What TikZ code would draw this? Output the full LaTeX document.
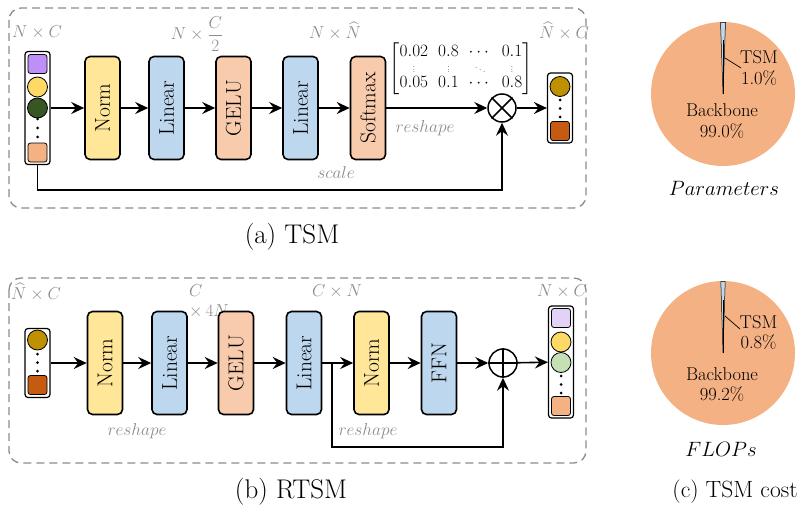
\documentclass[tikz,border=0pt]{standalone}
\usepackage{amsmath}
\usepackage{graphicx}
\usetikzlibrary{arrows.meta}
\definecolor{cyel}{HTML}{FFE699}
\definecolor{cblu}{HTML}{BDD7EE}
\definecolor{cpch}{HTML}{F8CBAD}
\definecolor{cgry}{HTML}{8C8C8C}
\definecolor{cpur}{HTML}{BF8FF8}
\definecolor{cgold}{HTML}{FFD966}
\definecolor{cdgrn}{HTML}{375623}
\definecolor{corg}{HTML}{F4B183}
\definecolor{cdyel}{HTML}{BF9000}
\definecolor{cdorg}{HTML}{C55A11}
\definecolor{clav}{HTML}{E2D2F8}
\definecolor{clgrn}{HTML}{C5E0B4}
\definecolor{cpie}{HTML}{F4B183}
\newcommand{\fsz}[2]{\fontsize{#1}{#2}\selectfont}
\newcommand{\svd}{\smash{\raisebox{-1pt}{\scalebox{0.65}{$\vdots$}}}}
\newcommand{\sdd}{\smash{\raisebox{-1pt}{\scalebox{0.65}{$\ddots$}}}}
\begin{document}
\begin{tikzpicture}[x=1pt,y=-1pt,
  blk/.style={draw, line width=1.6pt, rounded corners=5pt, minimum width=35pt, minimum height=103pt, inner sep=0pt, font=\fsz{21.5}{24}},
  colbox/.style={draw, line width=1.2pt, rounded corners=3pt, fill=white, inner sep=0pt, minimum width=25pt},
  sq/.style={draw, line width=0.8pt, rounded corners=2.5pt, minimum size=19pt, inner sep=0pt},
  ci/.style={draw, circle, line width=0.8pt, minimum size=20pt, inner sep=0pt},
  smalldot/.style={circle, fill=black, minimum size=3pt, inner sep=0pt},
  lbl/.style={text=cgry, font=\fsz{16.5}{18}, inner sep=0pt},
  flow/.style={line width=1.6pt, -{Stealth[length=13pt,width=12pt,inset=4.5pt]}},
  dbox/.style={draw=cgry, line width=1.3pt, dash pattern=on 8pt off 5pt, rounded corners=12pt},
  op/.style={draw, circle, line width=1.5pt, minimum size=28pt, inner sep=0pt},
  pietxt/.style={font=\fsz{18.5}{20.5}, align=center, inner sep=0pt},
  captxt/.style={font=\fsz{27}{29}, inner sep=0pt}
]
\useasboundingbox (0,0) rectangle (800,508);

% ===================== (a) TSM =====================
\draw[dbox] (9,8) rectangle (586,208);
\node[lbl] (la1) at (37,32) {$N\times C$};
\node[lbl] (la2) at (197,34) {$N\times\dfrac{C}{2}$};
\node[lbl] (la3) at (335,31) {$N\times \widehat{N}$};
\node[lbl] (la4) at (564,31) {$\widehat{N}\times C$};

\node[colbox, minimum height=113pt] (in1) at (37.5,108) {};
\node[sq, fill=cpur] (a1) at (37.5,64) {};
\node[ci, fill=cgold] (a2) at (37.5,87) {};
\node[ci, fill=cdgrn] (a3) at (37.5,108) {};
\node[smalldot] (a4) at (37.5,119) {};
\node[smalldot] (a5) at (37.5,128) {};
\node[smalldot] (a6) at (37.5,137) {};
\node[sq, fill=corg] (a7) at (37.5,152.5) {};

\node[blk, fill=cyel] (n1) at (102.5,108) {\rotatebox{90}{Norm}};
\node[blk, fill=cblu] (l1) at (166.5,108) {\rotatebox{90}{Linear}};
\node[blk, fill=cpch] (g1) at (233.5,108) {\rotatebox{90}{GELU}};
\node[blk, fill=cblu] (l2) at (300.5,108) {\rotatebox{90}{Linear}};
\node[blk, fill=cpch] (s1) at (368,108) {\rotatebox{90}{Softmax}};
\node[op] (mul) at (502,108) {};
\draw[line width=1.5pt] (mul.north west) -- (mul.south east) (mul.north east) -- (mul.south west);

\node[colbox, minimum height=70pt] (out1) at (560,108) {};
\node[ci, fill=cdyel] (b1) at (560,86.5) {};
\node[smalldot] (b2) at (560,100) {};
\node[smalldot] (b3) at (560,108.5) {};
\node[smalldot] (b4) at (560,117) {};
\node[sq, fill=cdorg] (b5) at (560,131) {};

\node[font=\fsz{17}{15}, inner sep=0pt] (mat) at (461,69)
  {$\setlength{\arraycolsep}{5pt}\begin{bmatrix}0.02 & 0.8 & \cdots & 0.1\\ \svd & \svd & \sdd & \svd\\ 0.05 & 0.1 & \cdots & 0.8\end{bmatrix}$};
\node[lbl, font=\fsz{17}{18}] (rs1) at (425,128) {$reshape$};
\node[lbl, font=\fsz{17}{18}] (sc1) at (336,172) {$scale$};

\draw[flow] (in1) -- (n1);
\draw[flow] (n1) -- (l1);
\draw[flow] (l1) -- (g1);
\draw[flow] (g1) -- (l2);
\draw[flow] (l2) -- (s1);
\draw[flow] (s1) -- (mul);
\draw[flow] (mul) -- (out1);
\draw[flow] (in1.south) -- ++(0,25) -| (mul.south);

\node[captxt] (capa) at (292,237) {(a) TSM};

% ===================== (b) RTSM =====================
\draw[dbox] (9,278) rectangle (586,463);
\node[lbl] (lb1) at (36,292) {$\widehat{N}\times C$};
\node[lbl, anchor=west] (lb2) at (189,291) {$C$};
\node[lbl, anchor=west] (lb3) at (189,311) {$\times\, 4N$};
\node[lbl] (lb4) at (337,291) {$C\times N$};
\node[lbl] (lb5) at (562,291) {$N\times C$};

\node[colbox, minimum height=69pt] (in2) at (37.5,363) {};
\node[ci, fill=cdyel] (c1) at (37.5,340) {};
\node[smalldot] (c2) at (37.5,354) {};
\node[smalldot] (c3) at (37.5,362.5) {};
\node[smalldot] (c4) at (37.5,371) {};
\node[sq, fill=cdorg] (c5) at (37.5,385) {};

\node[blk, fill=cyel] (n2) at (105,363) {\rotatebox{90}{Norm}};
\node[blk, fill=cblu] (l3) at (169.5,363) {\rotatebox{90}{Linear}};
\node[blk, fill=cpch] (g2) at (236,363) {\rotatebox{90}{GELU}};
\node[blk, fill=cblu] (l4) at (304,363) {\rotatebox{90}{Linear}};
\node[blk, fill=cyel] (n3) at (371.5,363) {\rotatebox{90}{Norm}};
\node[blk, fill=cblu] (f1) at (439,363) {\rotatebox{90}{FFN}};
\node[op] (add) at (503,363) {};
\draw[line width=1.5pt] (add.north) -- (add.south) (add.east) -- (add.west);

\node[colbox, minimum height=112pt] (out2) at (561,362) {};
\node[sq, fill=clav] (d1) at (561,318) {};
\node[ci, fill=cgold] (d2) at (561,342) {};
\node[ci, fill=clgrn] (d3) at (561,362.5) {};
\node[smalldot] (d4) at (561,376) {};
\node[smalldot] (d5) at (561,384.5) {};
\node[smalldot] (d6) at (561,393) {};
\node[sq, fill=corg] (d7) at (561,406) {};

\node[lbl, font=\fsz{17}{18}] (rs2) at (137,431) {$reshape$};
\node[lbl, font=\fsz{17}{18}] (rs3) at (368,431) {$reshape$};

\coordinate (sk) at (332,363);
\draw[flow] (in2) -- (n2);
\draw[flow] (n2) -- (l3);
\draw[flow] (l3) -- (g2);
\draw[flow] (g2) -- (l4);
\draw[flow] (l4) -- (n3);
\draw[flow] (n3) -- (f1);
\draw[flow] (f1) -- (add);
\draw[flow] (add) -- (out2);
\draw[flow] (sk) -- ++(0,84) -| (add.south);

\node[captxt] (capb) at (291,492) {(b) RTSM};

% ===================== (c) TSM cost =====================
\fill[cpie] (723,94) circle (72);
\coordinate (p1c) at (723,94);
\draw[fill=cblu, line width=0.5pt] (p1c) -- (720.5,22.3) -- (725.5,22.3) -- cycle;
\draw[line width=0.9pt] (p1c) -- (723,40);
\draw[line width=0.7pt] (725,58) -- (741,68);
\node[pietxt] (t1) at (759,68) {TSM\\1.0\%};
\node[pietxt] (bb1) at (722,121) {Backbone\\99.0\%};
\node[font=\fsz{21}{22}, inner sep=0pt] (par) at (724,188) {$Parameters$};

\fill[cpie] (723,353) circle (72);
\coordinate (p2c) at (723,353);
\draw[fill=cblu, line width=0.5pt] (p2c) -- (720.8,281.3) -- (725.2,281.3) -- cycle;
\draw[line width=0.9pt] (p2c) -- (723,300);
\draw[line width=0.7pt] (725,316) -- (740,329);
\node[pietxt] (t2) at (758.5,332.5) {TSM\\0.8\%};
\node[pietxt] (bb2) at (722,384.5) {Backbone\\99.2\%};
\node[font=\fsz{21}{22}, inner sep=0pt] (flo) at (721,449) {$FLOPs$};

\node[font=\fsz{23.5}{25}, inner sep=0pt] (capc) at (735,492) {(c) TSM cost};
\end{tikzpicture}
\end{document}
